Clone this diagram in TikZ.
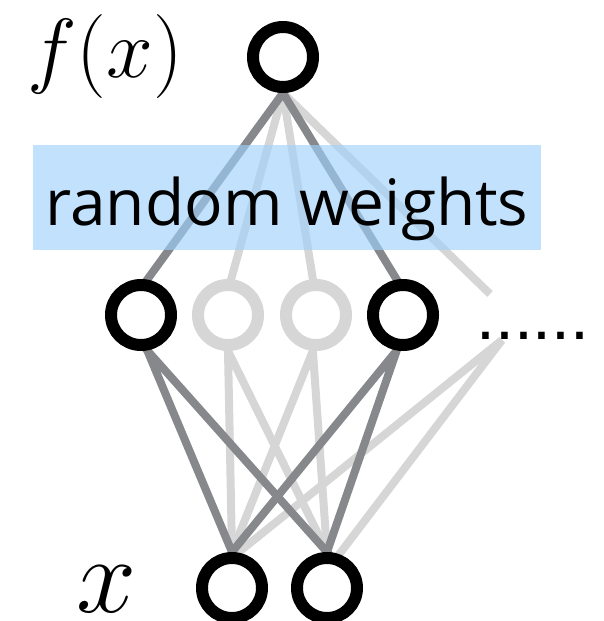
\documentclass[tikz,border=0pt]{standalone}
\usepackage{fix-cm}
\usepackage{fontspec}
\newfontfamily\boxfont{Open Sans}
\newfontfamily\dotfont{Liberation Sans}
\definecolor{darkedge}{RGB}{134,136,140}
\definecolor{lightedge}{RGB}{214,214,214}
\definecolor{boxblue}{RGB}{159,208,250}
\pgfdeclarelayer{bg}
\pgfsetlayers{bg,main}
\begin{document}
\begin{tikzpicture}[x=1pt,y=-1pt,
        neuron/.style={circle, draw=black, line width=12pt, fill=white, minimum size=60pt, inner sep=0pt},
        ghost/.style={neuron, draw=lightedge},
        darkline/.style={draw=darkedge, line width=8pt, shorten <=-5pt, shorten >=-5pt},
        lightline/.style={darkline, draw=lightedge}]
            \useasboundingbox (0,0) rectangle (603,621);
            \node[neuron] (out) at (283,57) {};
            \foreach \x/\name/\sty in {141/h1/neuron, 228/h2/ghost, 316/h3/ghost, 403/h4/neuron}
            \node[\sty] (\name) at (\x,315) {};
            \node[neuron] (in1) at (232,588) {};
            \node[neuron] (in2) at (327,588) {};
            \coordinate (more1) at (490,294); % 省略的神经元
            \coordinate (more2) at (502,340);
            \begin{pgfonlayer}{bg}
            % 浅色的连线在下面
            \draw[lightline] (out.south) -- (h2.85);
            \draw[lightline] (out.south) -- (h3.95);
            \draw[lightline, shorten >=0pt] (out.south) -- (more1);
            \foreach \h/\a in {h2/south, h3/-95}
            \draw[lightline] (\h.\a) -- (in1.north) (\h.\a) -- (in2.north);
            \draw[lightline, shorten <=0pt] (more2) -- (in1.80);
            \draw[lightline, shorten <=0pt] (more2) -- (in2.70);
            % 深色的连线在上面
            \draw[darkline] (out.south) -- (h1.80);
            \draw[darkline] (out.south) -- (h4.100);
            \foreach \h/\a in {h1/-80, h4/-100}
            \draw[darkline] (\h.\a) -- (in1.north) (\h.\a) -- (in2.north);
            \end{pgfonlayer}
            \node[fill=boxblue, fill opacity=0.64, text opacity=1, minimum width=508pt, inner sep=0pt,
                text height=80pt, text depth=25pt, font=\boxfont\fontsize{64}{64}\selectfont] (rw) at (287,197.5) {random weights};
            \node[anchor=base, inner sep=0pt, font=\fontsize{84}{84}\selectfont] (fx) at (105,77) {$f(x)$};
            \node[anchor=base, inner sep=0pt, font=\fontsize{108}{108}\selectfont] (xin) at (107,612) {$x$};
            \node[anchor=base west, inner sep=0pt, font=\dotfont\fontsize{68}{68}\selectfont] (dots) at (476,339) {......};
        \end{tikzpicture}
\end{document}
